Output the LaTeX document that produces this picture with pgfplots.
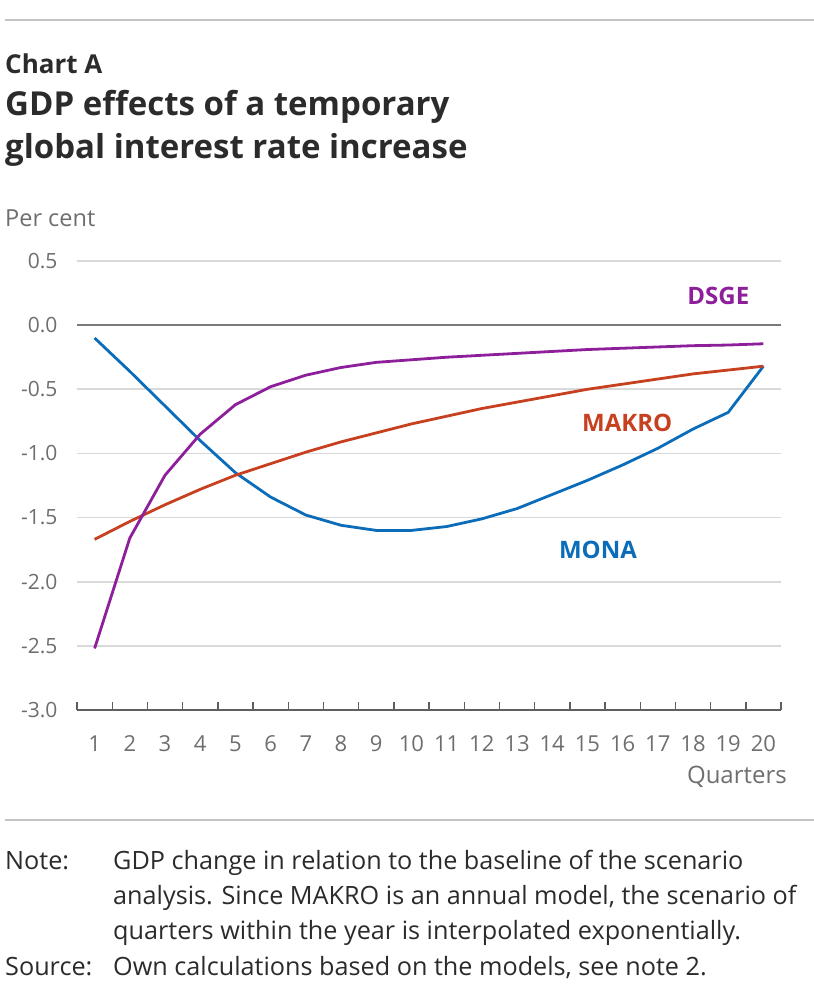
\documentclass[border=0pt]{standalone}
\usepackage{fontspec}
\setmainfont{Open Sans}
\usepackage{pgfplots}
\pgfplotsset{compat=1.18}
\definecolor{dsge}{HTML}{8E1F9B}
\definecolor{makro}{HTML}{C7401F}
\definecolor{mona}{HTML}{0B6DBA}
\definecolor{gridc}{HTML}{D9D9D9}
\definecolor{zeroc}{HTML}{7A7A7A}
\definecolor{tickc}{HTML}{5F5F5F}
\definecolor{labc}{HTML}{6E6E6E}
\definecolor{textc}{HTML}{2B2B2B}
\begin{document}
\begin{tikzpicture}
\path[use as bounding box] (0pt,0pt) rectangle (814pt,-997pt);
% top rule
\draw[gridc!90!black, line width=2.2pt] (5pt,-20pt) -- (814pt,-20pt);
\node[anchor=base west, inner sep=0pt, text=textc, font=\fontsize{26}{30}\selectfont\bfseries] at (5pt,-73pt) {Chart A};
\node[anchor=base west, inner sep=0pt, text=textc, font=\fontsize{33}{43}\selectfont\bfseries] at (5pt,-115pt) {GDP effects of a temporary};
\node[anchor=base west, inner sep=0pt, text=textc, font=\fontsize{33}{43}\selectfont\bfseries] at (5pt,-158pt) {global interest rate increase};
\node[anchor=base west, inner sep=0pt, text=labc, font=\fontsize{23.5}{26}\selectfont] at (5pt,-226pt) {Per cent};
\begin{axis}[
  at={(77pt,-710pt)}, anchor=south west,
  scale only axis, width=704pt, height=449pt,
  xmin=0.5, xmax=20.5, ymin=-3, ymax=0.5,
  axis x line*=bottom, axis y line*=left,
  y axis line style={draw=none},
  x axis line style={draw=tickc, line width=1.6pt},
  xtick={1,2,...,20},
  minor xtick={0.5,1.5,...,20.5},
  major x tick style={draw=none},
  minor x tick style={draw=tickc, line width=1.4pt},
  minor tick length=8pt,
  tick align=inside,
  /pgf/number format/assume math mode=true,
  ytick={-3,-2.5,-2,-1.5,-1,-0.5,0,0.5},
  yticklabels={-3.0,-2.5,-2.0,-1.5,-1.0,-0.5,0.0,0.5},
  ytick style={draw=none},
  ymajorgrids, grid style={draw=gridc, line width=1.6pt},
  ticklabel style={font=\fontsize{21}{24}\selectfont, text=labc},
  xticklabel style={yshift=-22pt, font=\fontsize{22}{24}\selectfont},
  yticklabel style={xshift=-16pt},
  clip=false,
]
\draw[zeroc, line width=2.2pt] (axis cs:0.5,0) -- (axis cs:20.5,0);
\addplot[mona, line width=2.8pt, line join=round] coordinates {
(1,-0.10) (2,-0.36) (3,-0.63) (4,-0.90) (5,-1.15) (6,-1.34) (7,-1.48) (8,-1.56) (9,-1.60) (10,-1.60)
(11,-1.57) (12,-1.51) (13,-1.43) (14,-1.32) (15,-1.21) (16,-1.09) (17,-0.96) (18,-0.81) (19,-0.68) (20,-0.32)};
\addplot[makro, line width=2.8pt, line join=round] coordinates {
(1,-1.67) (2,-1.53) (3,-1.40) (4,-1.28) (5,-1.17) (6,-1.08) (7,-0.99) (8,-0.91) (9,-0.84) (10,-0.77)
(11,-0.71) (12,-0.65) (13,-0.60) (14,-0.55) (15,-0.50) (16,-0.46) (17,-0.42) (18,-0.38) (19,-0.35) (20,-0.32)};
\addplot[dsge, line width=2.8pt, line join=round] coordinates {
(1,-2.52) (2,-1.66) (3,-1.17) (4,-0.85) (5,-0.62) (6,-0.48) (7,-0.39) (8,-0.33) (9,-0.29) (10,-0.27)
(11,-0.25) (12,-0.235) (13,-0.22) (14,-0.205) (15,-0.19) (16,-0.18) (17,-0.17) (18,-0.16) (19,-0.155) (20,-0.145)};
\node[text=dsge, font=\fontsize{24}{26}\selectfont\bfseries] at (axis cs:18.72,0.226) {DSGE};
\node[text=makro, font=\fontsize{24}{26}\selectfont\bfseries] at (axis cs:16.13,-0.764) {MAKRO};
\node[text=mona, font=\fontsize{24}{26}\selectfont\bfseries] at (axis cs:15.3,-1.754) {MONA};
\end{axis}
\node[anchor=base east, inner sep=0pt, text=labc, font=\fontsize{24}{26}\selectfont] at (787pt,-783pt) {Quarters};
% bottom rule
\draw[gridc!90!black, line width=2.2pt] (5pt,-820pt) -- (814pt,-820pt);
\begin{scope}[every node/.style={anchor=base west, inner sep=0pt, text=textc, font=\fontsize{25.2}{28}\selectfont}]
\node at (5pt,-869pt) {Note:};
\node at (113pt,-869pt) {GDP change in relation to the baseline of the scenario};
\node at (113pt,-904pt) {analysis. Since MAKRO is an annual model, the scenario of};
\node at (113pt,-939pt) {quarters within the year is interpolated exponentially.};
\node at (5pt,-975pt) {Source:};
\node at (113pt,-975pt) {Own calculations based on the models, see note 2.};
\end{scope}
\end{tikzpicture}
\end{document}
